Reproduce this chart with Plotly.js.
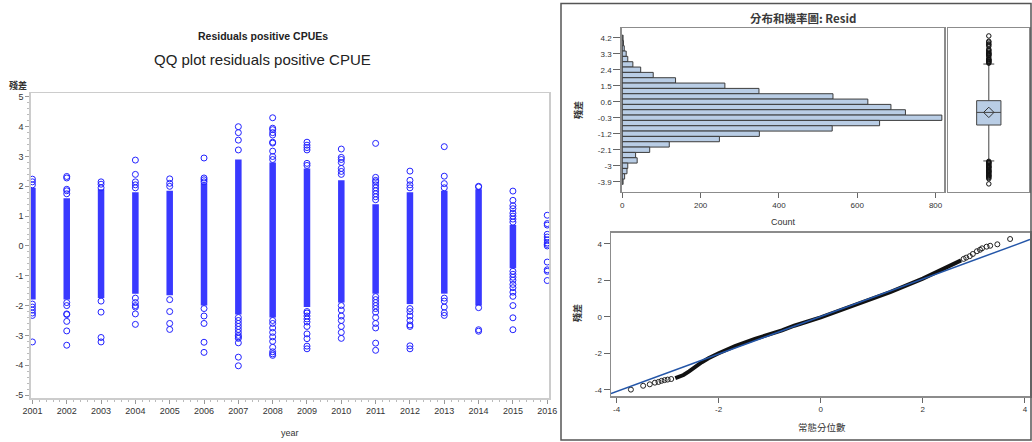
<!DOCTYPE html>
<html><head><meta charset="utf-8">
<script src="https://cdn.plot.ly/plotly-3.0.1.min.js"></script>
<style>html,body{margin:0;padding:0;background:#fff}#chart{width:1032px;height:442px}</style>
</head><body><div id="chart"></div>
<script>
// ---------------- data ----------------
const years = [2001,2002,2003,2004,2005,2006,2007,2008,2009,2010,2011,2012,2013,2014,2015,2016];
// dense part of each year's column of residuals (low, high)
const bandLow  = [-1.8,-1.8,-1.75,-1.6,-1.65,-2.0,-2.3,-2.4,-2.05,-1.9,-1.6,-1.95,-1.6,-2.0,-0.75,null];
const bandHigh = [1.95,1.6,1.9,1.8,1.85,2.1,2.9,2.8,2.6,2.2,1.4,1.8,1.85,1.9,0.7,null];
// individually visible residuals per year
const sparseResid = [
  [2.24,2.15,2.05,-1.95,-2.05,-2.15,-2.25,-2.33,-3.22],
  [2.33,2.28,1.9,1.85,1.75,-1.9,-2.0,-2.28,-2.3,-2.53,-2.85,-3.33],
  [2.15,2.07,1.95,-1.85,-2.22,-3.07,-3.22],
  [2.88,2.4,2.15,2.05,1.95,-1.75,-1.9,-2.0,-2.05,-2.28,-2.63],
  [2.25,2.1,2.0,-1.8,-2.2,-2.6,-2.8],
  [2.95,2.28,2.22,2.15,-2.1,-2.35,-2.6,-3.23,-3.57],
  [4.0,3.8,3.55,3.22,-2.4,-2.5,-2.6,-2.7,-2.8,-2.9,-3.0,-3.05,-3.1,-3.25,-3.73,-4.02],
  [4.3,3.95,3.9,3.8,3.72,3.48,3.45,3.18,3.0,2.9,-2.5,-2.6,-2.75,-2.9,-3.05,-3.2,-3.4,-3.55,-3.62,-3.67],
  [3.48,3.38,3.3,3.22,2.77,2.7,-2.2,-2.25,-2.35,-2.45,-2.55,-2.7,-2.95,-3.11,-3.36,-3.45],
  [3.25,2.97,2.9,2.8,2.6,2.5,2.4,-2.0,-2.15,-2.35,-2.5,-2.7,-2.9,-3.1],
  [3.44,2.3,2.2,2.15,2.05,1.95,1.85,1.75,1.65,1.55,-1.7,-1.8,-1.9,-2.0,-2.1,-2.22,-2.4,-2.6,-2.75,-3.26,-3.5],
  [2.51,2.2,2.05,1.95,-2.1,-2.2,-2.35,-2.5,-2.65,-2.7,-3.35,-3.45],
  [3.33,2.34,2.09,1.95,-1.75,-1.85,-2.05,-2.24,-2.33],
  [2.0,1.98,-2.07,-2.81,-2.86],
  [1.84,1.53,1.35,1.25,1.1,1.0,0.9,0.8,-0.85,-0.95,-1.05,-1.15,-1.29,-1.4,-1.55,-1.69,-2.0,-2.41,-2.81],
  [1.03,0.75,0.7,0.39,0.3,0.2,0.1,0.05,0.0,-0.54,-0.8,-0.85,-1.16]
];
const residTickVals = [5,4,3,2,1,0,-1,-2,-3,-4,-5];
const residTickText = ['5','4','3','2','1','0','-1','-2','-3','-4','-5'];

// histogram of residuals (bin centres, counts)
const histBins   = [4.2,3.9,3.6,3.3,3.0,2.7,2.4,2.1,1.8,1.5,1.2,0.9,0.6,0.3,0.0,-0.3,-0.6,-0.9,-1.2,-1.5,-1.8,-2.1,-2.4,-2.7,-3.0,-3.3,-3.6,-3.9];
const histCounts = [2,3,5,10,14,27,47,79,136,262,349,538,627,686,723,816,657,536,350,248,120,70,34,38,14,12,6,2];
const histTickVals = [4.2,3.3,2.4,1.5,0.6,-0.3,-1.2,-2.1,-3,-3.9];
const histTickText = ['4.2','3.3','2.4','1.5','0.6','-0.3','-1.2','-2.1','-3','-3.9'];
const countTicks = [0,200,400,600,800];

// box plot statistics
const boxQ1 = [-0.71], boxMedian = [0.0], boxQ3 = [0.66];
const boxLowFence = [-2.73], boxHighFence = [2.72], boxMean = [0.0];
const boxOutliers = [4.3,4.0,3.95,3.85,3.8,3.72,3.55,3.5,3.45,3.38,3.33,3.3,3.27,3.22,3.2,3.1,3.0,2.97,2.95,2.9,2.88,2.85,2.8,2.77,
  -2.75,-2.8,-2.82,-2.85,-2.9,-2.95,-3.0,-3.05,-3.07,-3.1,-3.15,-3.22,-3.25,-3.3,-3.33,-3.35,-3.4,-3.45,-3.5,-3.55,-3.57,-3.62,-3.67,-3.73,-4.02];

// QQ plot: dense body and individually visible points, reference line
const qqDenseX = [-2.85,-2.75,-2.69,-2.58,-2.46,-2.33,-2.2,-2.1,-2.0,-1.68,-1.29,-0.76,-0.52,0,0.71,1.36,2.0,2.25,2.47,2.65,2.75];
const qqDenseY = [-3.35,-3.27,-3.18,-2.98,-2.72,-2.48,-2.26,-2.1,-1.99,-1.6,-1.2,-0.74,-0.48,-0.02,0.7,1.36,2.1,2.44,2.74,2.97,3.1];
const qqSparseX = [-3.72,-3.48,-3.35,-3.25,-3.18,-3.12,-3.06,-3.0,-2.93,2.8,2.85,2.92,2.98,3.06,3.12,3.16,3.25,3.32,3.46,3.71];
const qqSparseY = [-3.98,-3.77,-3.69,-3.6,-3.56,-3.5,-3.46,-3.43,-3.4,3.18,3.25,3.33,3.45,3.6,3.68,3.76,3.85,3.9,3.98,4.27];
const qqLineX = [-4.11,4.1];
const qqLineY = [-4.2,4.24];
const qqTicks = [-4,-2,0,2,4];
const qqTickText = ['-4','-2','0','2','4'];

// ---------------- build traces ----------------
const bandX = [], bandY = [];
years.forEach((yr,i)=>{ if(bandLow[i]!==null){ bandX.push(yr,yr,null); bandY.push(bandLow[i],bandHigh[i],null);} });
const ptX = [], ptY = [];
years.forEach((yr,i)=>{ sparseResid[i].forEach(v=>{ptX.push(yr); ptY.push(v);}); });

const BLUE = 'rgb(35,35,255)';
const traces = [
  {type:'scatter', mode:'lines', x:bandX, y:bandY, xaxis:'x', yaxis:'y', line:{color:'rgba(30,30,255,0.88)', width:6.5}, cliponaxis:false, hoverinfo:'skip'},
  {type:'scatter', mode:'markers', x:ptX, y:ptY, xaxis:'x', yaxis:'y', cliponaxis:false,
   marker:{symbol:'circle-open', size:6, color:BLUE, line:{width:1, color:BLUE}}, hoverinfo:'skip'},
  {type:'bar', orientation:'h', x:histCounts, y:histBins, width:0.3, xaxis:'x2', yaxis:'y2',
   marker:{color:'#b9cde5', line:{color:'#3c3c3c', width:1}}, hoverinfo:'skip'},
  {type:'box', orientation:'v', x:[0], q1:boxQ1, median:boxMedian, q3:boxQ3, lowerfence:boxLowFence, upperfence:boxHighFence,
   xaxis:'x3', yaxis:'y3', width:0.3, whiskerwidth:0.45, fillcolor:'#b9cde5', line:{color:'#444', width:1}, boxpoints:false, hoverinfo:'skip'},
  {type:'scatter', mode:'markers', x:boxOutliers.map(()=>0), y:boxOutliers, xaxis:'x3', yaxis:'y3', cliponaxis:false,
   marker:{symbol:'circle-open', size:4.5, color:'#111', line:{width:1, color:'#111'}}, hoverinfo:'skip'},
  {type:'scatter', mode:'markers', x:[0], y:boxMean, xaxis:'x3', yaxis:'y3',
   marker:{symbol:'diamond-open', size:8, color:'#333', line:{width:1, color:'#333'}}, hoverinfo:'skip'},
  {type:'scatter', mode:'lines', x:qqDenseX, y:qqDenseY, xaxis:'x4', yaxis:'y4', line:{color:'#111', width:4}, hoverinfo:'skip'},
  {type:'scatter', mode:'markers', x:qqSparseX, y:qqSparseY, xaxis:'x4', yaxis:'y4',
   marker:{symbol:'circle-open', size:5, color:'#222', line:{width:1, color:'#222'}}, hoverinfo:'skip'},
  {type:'scatter', mode:'lines', x:qqLineX, y:qqLineY, xaxis:'x4', yaxis:'y4', line:{color:'#2456a8', width:1.5}, hoverinfo:'skip'}
];

// ---------------- layout ----------------
const W = 1032, H = 442;
const px = x => x / W, py = y => 1 - y / H;
const NARROW = '"Liberation Sans Narrow","Arial Narrow","Liberation Sans",Arial,sans-serif';
const SANS = '"Liberation Sans",Arial,sans-serif';
const CJK = '"Noto Sans CJK TC","Noto Sans CJK SC",sans-serif';
const leftTick = {family:NARROW, size:9, color:'#333'};
const rightTick = {family:SANS, size:8, color:'#333'};

const frameAx = (extra) => Object.assign({showline:true, mirror:true, linecolor:'#8c8c8c', linewidth:1.5,
  showgrid:false, zeroline:false, fixedrange:true}, extra);

const layout = {
  width:W, height:H, margin:{l:0,r:0,t:0,b:0}, paper_bgcolor:'#fff', plot_bgcolor:'#fff', showlegend:false,
  xaxis: frameAx({domain:[px(30.7),px(549.3)], range:[2000.95,2016.06], anchor:'y', linecolor:'#cccccc',
    tickmode:'array', tickvals:years, ticktext:years.map(String), ticks:'outside', ticklen:4, tickcolor:'#999', tickfont:leftTick,
    minor:{tickmode:'linear', tick0:2001, dtick:0.2, ticks:'outside', ticklen:2, tickcolor:'#bbb'}}),
  yaxis: frameAx({domain:[py(398),py(93)], range:[-5.1,5.13], anchor:'x', linecolor:'#cccccc',
    tickmode:'array', tickvals:residTickVals, ticktext:residTickText, ticks:'outside', ticklen:4, tickcolor:'#999', tickfont:leftTick,
    minor:{tickmode:'linear', tick0:0, dtick:0.2, ticks:'outside', ticklen:2, tickcolor:'#bbb'}}),
  xaxis2: frameAx({domain:[px(621.7),px(944)], range:[-1.5,821.5], anchor:'y2',
    tickmode:'array', tickvals:countTicks, ticktext:countTicks.map(String), ticks:'outside', ticklen:5, tickcolor:'#666', tickfont:rightTick}),
  yaxis2: frameAx({domain:[py(191.7),py(28.3)], range:[-4.46,4.73], anchor:'x2',
    tickmode:'array', tickvals:histTickVals, ticktext:histTickText, ticks:'outside', ticklen:7, tickcolor:'#666', tickfont:rightTick}),
  xaxis3: frameAx({domain:[px(948.3),px(1029.3)], range:[-0.5,0.5], anchor:'y3', showticklabels:false, ticks:''}),
  yaxis3: frameAx({domain:[py(191.7),py(28.3)], range:[-4.46,4.73], anchor:'x3', showticklabels:false, ticks:''}),
  xaxis4: frameAx({domain:[px(611),px(1030)], range:[-4.11,4.1], anchor:'y4',
    tickmode:'array', tickvals:qqTicks, ticktext:qqTickText, ticks:'outside', ticklen:5, tickcolor:'#666', tickfont:rightTick}),
  yaxis4: frameAx({domain:[py(396),py(232.8)], range:[-4.33,4.61], anchor:'x4',
    tickmode:'array', tickvals:qqTicks, ticktext:qqTickText, ticks:'outside', ticklen:6, tickcolor:'#666', tickfont:rightTick}),
  shapes:[
    {type:'rect', xref:'paper', yref:'paper', x0:px(561), x1:px(1031), y0:py(440), y1:py(3.5), line:{color:'#555', width:1.5}}
  ],
  annotations:[
    {text:'<b>Residuals positive CPUEs</b>', x:px(263), y:py(36), font:{family:SANS, size:10.5, color:'#222'}},
    {text:'QQ plot residuals positive CPUE', x:px(262.5), y:py(60), font:{family:SANS, size:15, color:'#222'}},
    {text:'<b>殘差</b>', x:px(18), y:py(86), font:{family:CJK, size:9, color:'#333'}},
    {text:'year', x:px(290), y:py(433), font:{family:SANS, size:9, color:'#333'}},
    {text:'<b>分布和機率圖: Resid</b>', x:px(803), y:py(18), font:{family:CJK, size:11.5, color:'#3a3a3a'}},
    {text:'<b>殘差</b>', x:px(578), y:py(110), textangle:-90, font:{family:CJK, size:9, color:'#333'}},
    {text:'Count', x:px(783), y:py(222), font:{family:SANS, size:9, color:'#333'}},
    {text:'<b>殘差</b>', x:px(577), y:py(313), textangle:-90, font:{family:CJK, size:9, color:'#333'}},
    {text:'常態分位數', x:px(822), y:py(427), font:{family:CJK, size:9.5, color:'#333'}}
  ].map(a => Object.assign({xref:'paper', yref:'paper', showarrow:false, xanchor:'center', yanchor:'middle'}, a))
};

Plotly.newPlot('chart', traces, layout, {staticPlot:true, displayModeBar:false});
</script>
</body></html>
